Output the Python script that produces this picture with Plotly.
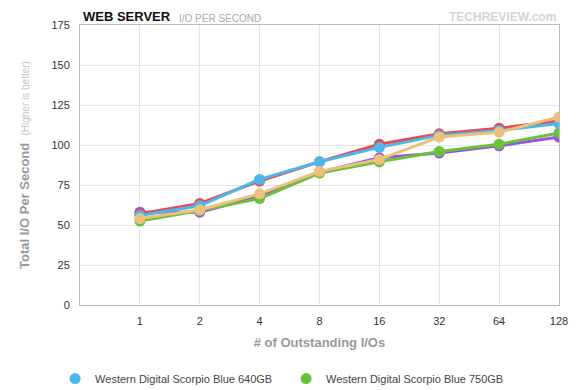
import plotly.graph_objects as go

categories = ["1", "2", "4", "8", "16", "32", "64", "128"]
y_ticks = [0, 25, 50, 75, 100, 125, 150, 175]

series_names = {
    "blue": "Western Digital Scorpio Blue 640GB",
    "green": "Western Digital Scorpio Blue 750GB",
    "red": "Seagate Momentus 7200.4 500GB",
    "purple": "Hitachi Travelstar 7K500 500GB",
    "orange": "Samsung Spinpoint M7 500GB",
}
blue_vals = [56, 62, 78.5, 89.5, 98.5, 106, 109, 113.5]
green_vals = [52.5, 59, 66.5, 82.5, 89.5, 96, 100.5, 107.5]
red_vals = [57, 63.5, 77.5, 89.5, 100.5, 107, 110.5, 115]
purple_vals = [58, 58, 68, 83, 92, 95, 99.5, 105]
orange_vals = [54, 59.5, 69.5, 83.5, 91, 105, 108, 117.5]

colors = {
    "blue": "#4CB8EA",
    "green": "#6CC13A",
    "red": "#E84A4F",
    "purple": "#9D4FE6",
    "orange": "#EEC07C",
}

draw_order = [("purple", purple_vals), ("red", red_vals), ("green", green_vals),
              ("blue", blue_vals), ("orange", orange_vals)]

fig = go.Figure()
for key, vals in draw_order:
    fig.add_trace(go.Scatter(
        x=categories, y=vals, name=series_names[key], mode="lines+markers",
        line=dict(color=colors[key], width=3),
        marker=dict(color=colors[key], size=11),
        showlegend=False, legendgroup=key,
    ))

# legend entries (dot only), visible row
for key in ["blue", "green"]:
    fig.add_trace(go.Scatter(
        x=[None], y=[None], name=series_names[key], mode="markers",
        marker=dict(color=colors[key], size=11), legendgroup=key,
    ))

font_family = "Liberation Sans, Arial, Helvetica, sans-serif"

fig.update_layout(
    width=580, height=390,
    margin=dict(l=72, r=29, t=17, b=93, autoexpand=False),
    paper_bgcolor="white", plot_bgcolor="white",
    font=dict(family=font_family, color="#333", size=11),
    showlegend=True,
    legend=dict(orientation="h", x=-0.052, xanchor="left", y=-0.211, yanchor="top",
                font=dict(size=11, color="#444"), entrywidth=186, entrywidthmode="pixels",
                itemwidth=30, bgcolor="rgba(0,0,0,0)"),
    xaxis=dict(
        type="category", range=[-1, 7], categoryorder="array", categoryarray=categories,
        showgrid=True, gridcolor="#e6e6e6", gridwidth=1, automargin=False,
        showline=True, linecolor="#bbbbbb", linewidth=1, mirror=True,
        ticks="", ticklabelstandoff=6, zeroline=False,
        tickfont=dict(size=11, color="#333"),
        title=dict(text="<b># of Outstanding I/Os</b>", font=dict(size=13, color="#999"), standoff=11),
    ),
    yaxis=dict(
        range=[0, 175], tickvals=y_ticks, ticktext=[str(v) for v in y_ticks],
        showgrid=True, gridcolor="#e6e6e6", gridwidth=1, automargin=False,
        showline=True, linecolor="#bbbbbb", linewidth=1, mirror=True,
        ticks="", ticklabelstandoff=7, zeroline=False,
        tickfont=dict(size=11, color="#333"),
        title=dict(text="<b>Total I/O Per Second</b>  <span style='font-size:10px;color:#c4c4c4'>(Higher is better)</span>",
                   font=dict(size=13, color="#999"), standoff=18),
    ),
)

fig.add_annotation(text="<b>WEB SERVER</b>", xref="paper", yref="paper", x=0.004, y=1.0,
                   xanchor="left", yanchor="bottom", showarrow=False, borderpad=0,
                   font=dict(size=13, color="#111", family=font_family))
fig.add_annotation(text="I/O PER SECOND", xref="paper", yref="paper", x=0.205, y=1.0,
                   xanchor="left", yanchor="bottom", showarrow=False, borderpad=0,
                   font=dict(size=10, color="#aaa", family=font_family))
fig.add_annotation(text="<b>TECHREVIEW.com</b>", xref="paper", yref="paper", x=0.996, y=1.0,
                   xanchor="right", yanchor="bottom", showarrow=False, borderpad=0,
                   font=dict(size=12, color="#d4d4d4", family=font_family))

fig.write_html("out.html")
